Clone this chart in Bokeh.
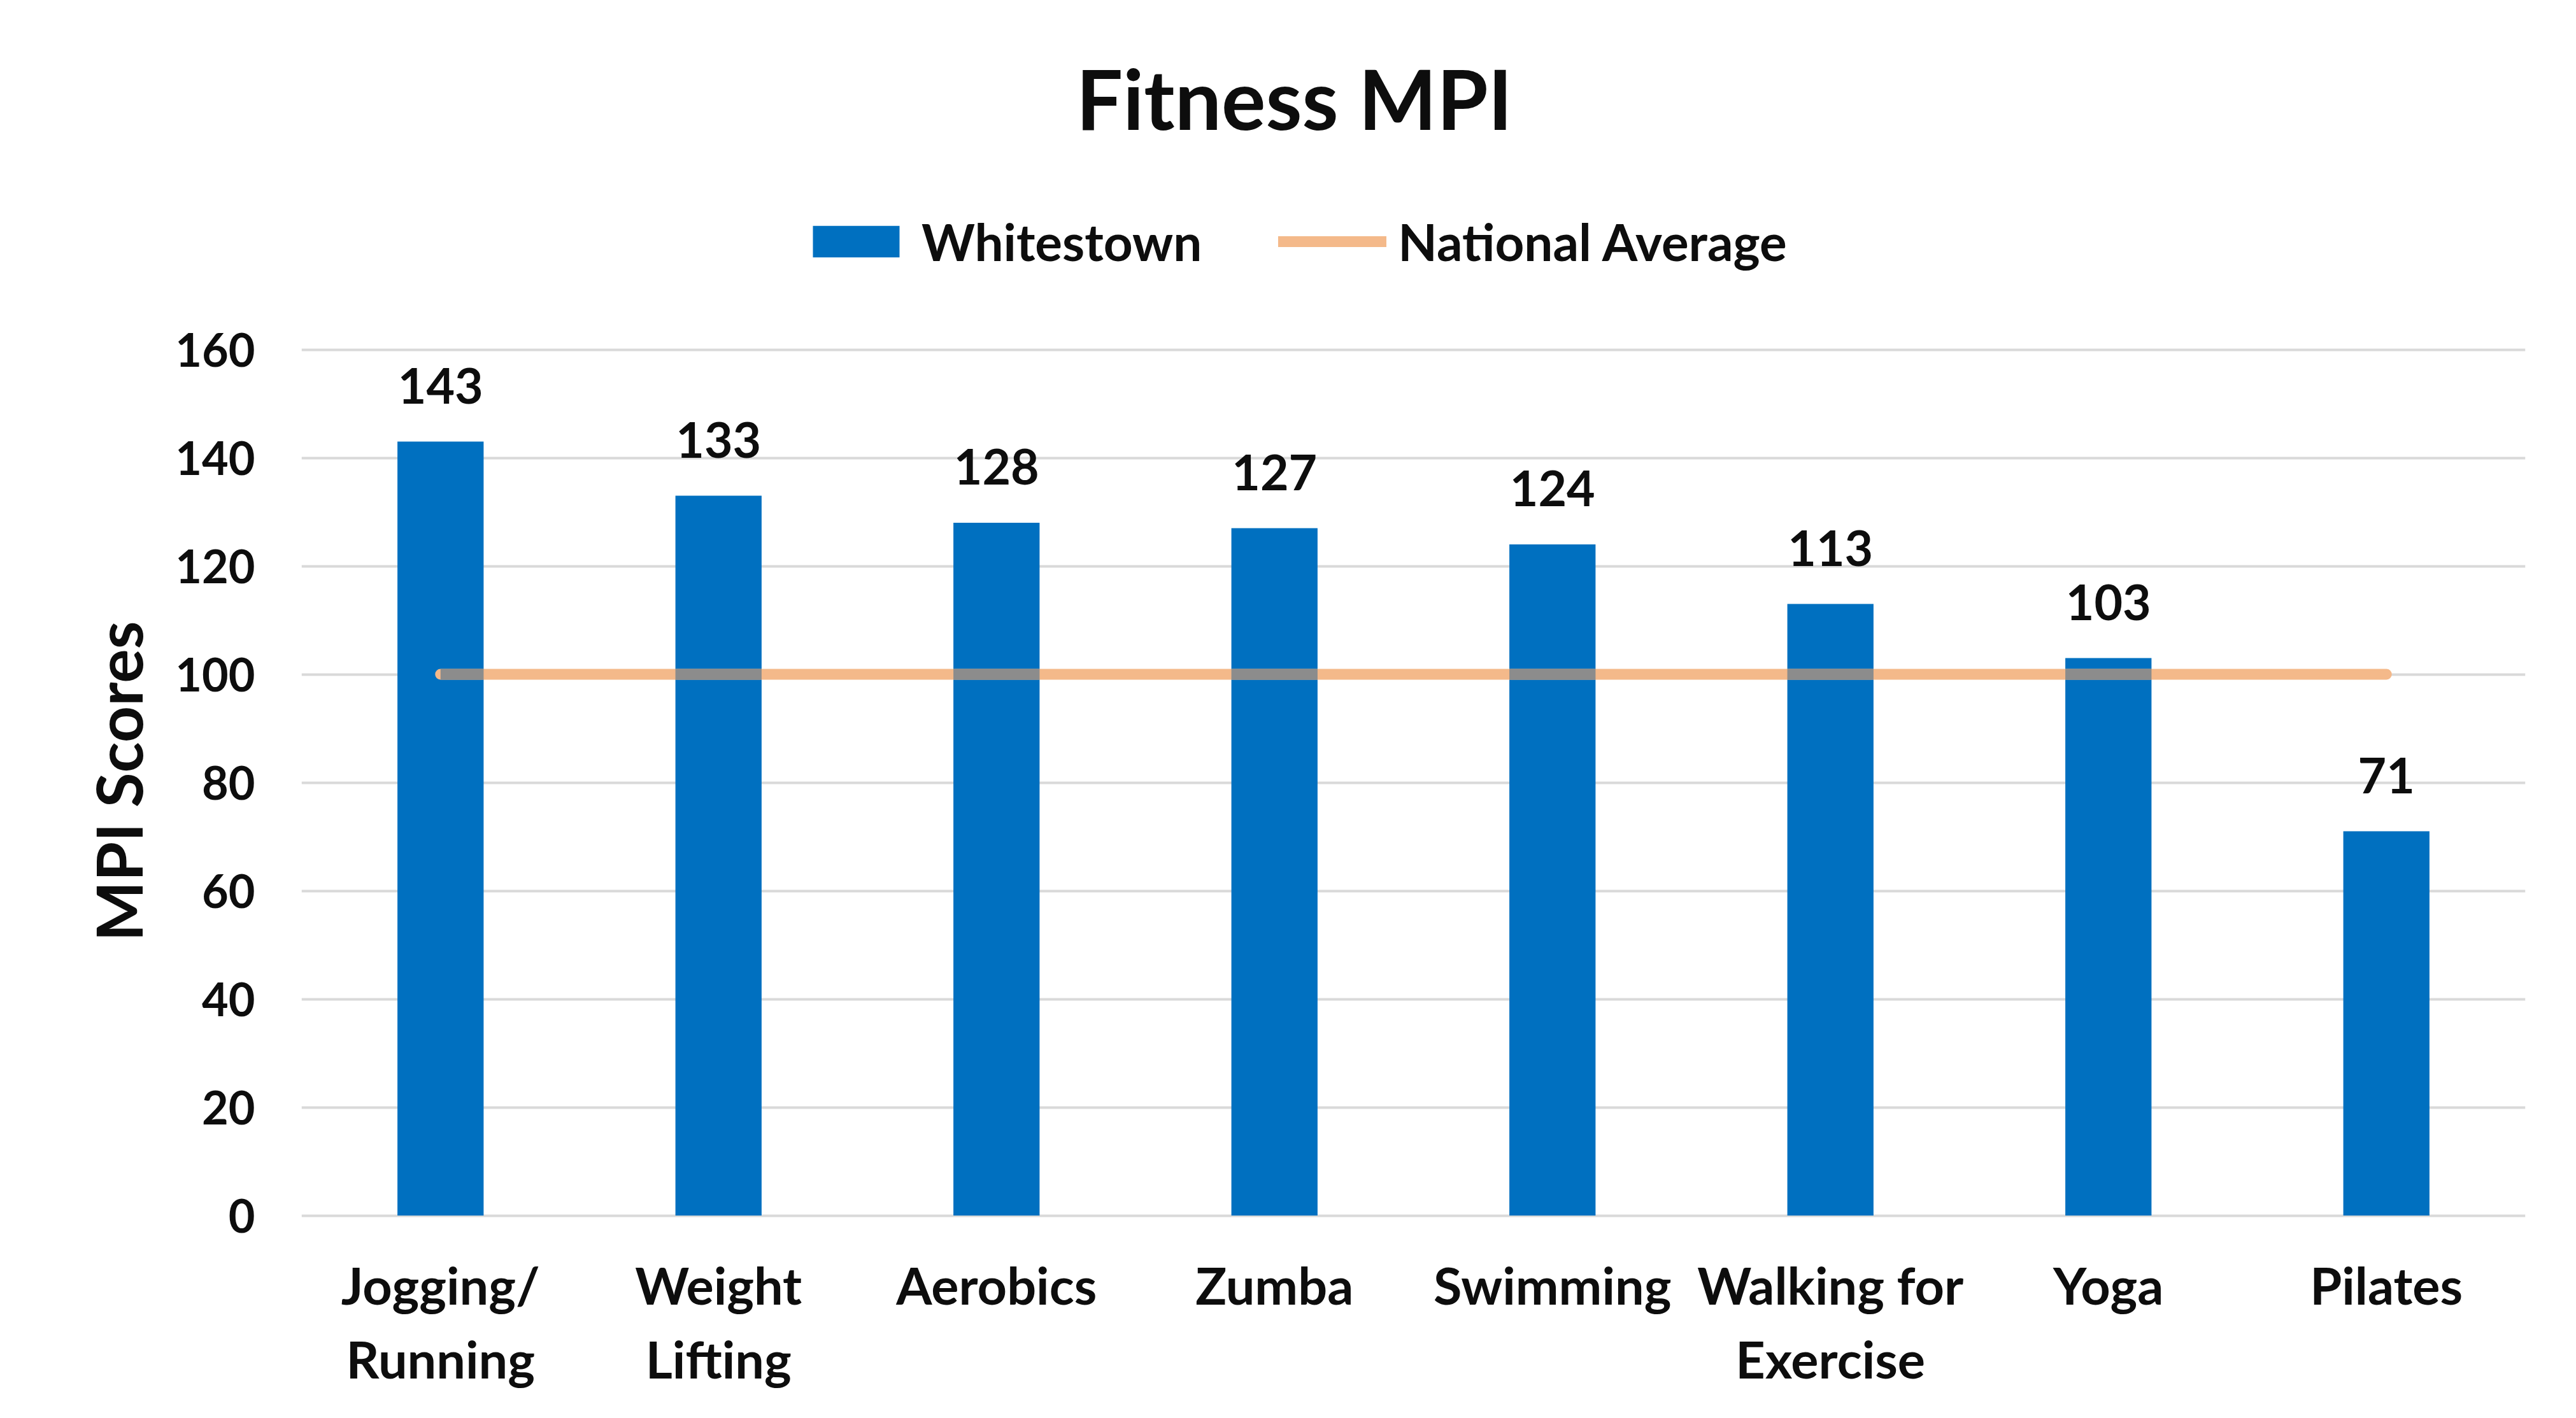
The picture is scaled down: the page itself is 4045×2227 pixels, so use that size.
from bokeh.plotting import figure
from bokeh.layouts import row
from bokeh.models import Range1d, FixedTicker, Label, Legend, LegendItem, ColumnDataSource, Div
from bokeh.core.properties import value
from bokeh.embed import file_html
from bokeh.resources import INLINE

# ---- data ----
categories = ["Jogging/\nRunning", "Weight\nLifting", "Aerobics", "Zumba",
              "Swimming", "Walking for\nExercise", "Yoga", "Pilates"]
whitestown = [143, 133, 128, 127, 124, 113, 103, 71]
national_average = [100, 100, 100, 100, 100, 100, 100, 100]
y_ticks = [0, 20, 40, 60, 80, 100, 120, 140, 160]
title_text = "Fitness MPI"
y_label = "MPI Scores"
series_names = ["Whitestown", "National Average"]

# ---- style ----
FONT = "Lato"
BLUE = "#0070C0"
PEACH = "#F4B98A"
OVERLAP = "#8C8C8C"
GRID = "#D9D9D9"
TXT = "#0D0D0D"
BAR_W = 0.31

n = len(categories)
xpos = [i + 0.5 for i in range(n)]

H = 2211
LW = 250          # width of the strip holding the y-axis title
W = 4029 - LW

# ---- strip with the vertical y-axis title (HTML text, CSS-rotated) ----
ylab_html = (
    '<div style="position:absolute; left:0px; top:0px; width:1000px; '
    'height:120px; line-height:120px; text-align:center; white-space:nowrap; '
    f'font-family:{FONT}; font-weight:bold; font-size:100px; color:{TXT}; '
    'transform-origin:50% 50%; '
    'transform:translate(-315px, 1167px) rotate(-90deg);">'
    f'{y_label}</div>'
)
ylab = Div(text=ylab_html, width=LW, height=H, margin=0,
           styles={"overflow": "visible", "position": "relative"})

# ---- main chart (frame reaches the top so title/legend sit inside it) ----
p = figure(width=W, height=H, output_backend="svg", toolbar_location=None,
           x_range=Range1d(0, n), y_range=Range1d(-3, 224.53),
           min_border_left=223, min_border_right=64,
           min_border_top=0, min_border_bottom=277)
p.outline_line_color = None
p.background_fill_color = "white"
p.border_fill_color = "white"

src = ColumnDataSource(dict(x=xpos, val=whitestown,
                            lab=[str(v) for v in whitestown]))
bars = p.vbar(x="x", top="val", bottom=0, width=BAR_W, source=src,
              fill_color=BLUE, line_color=None)
avg_line = p.line(x=xpos, y=national_average, line_color=PEACH,
                  line_width=17, line_cap="round")

# part of the average line lying over the bars is drawn grey
x0s, x1s, ys = [], [], []
for xc, v, a in zip(xpos, whitestown, national_average):
    if v > a:
        x0s.append(max(xc - BAR_W / 2, xpos[0]))
        x1s.append(min(xc + BAR_W / 2, xpos[-1]))
        ys.append(a)
p.segment(x0=x0s, y0=ys, x1=x1s, y1=ys, line_color=OVERLAP, line_width=17)

p.text(x="x", y="val", text="lab", source=src, y_offset=-88,
       text_align="center", text_baseline="alphabetic",
       text_font=value(FONT), text_font_style="bold",
       text_font_size="77px", text_color=TXT)

# axes
p.yaxis.ticker = FixedTicker(ticks=y_ticks)
p.yaxis.axis_line_color = None
p.yaxis.major_tick_line_color = None
p.yaxis.minor_tick_line_color = None
p.yaxis.major_tick_out = 0
p.yaxis.minor_tick_out = 0
p.yaxis.major_label_standoff = 73
p.yaxis.major_label_text_font = FONT
p.yaxis.major_label_text_font_style = "bold"
p.yaxis.major_label_text_font_size = "72px"
p.yaxis.major_label_text_color = TXT

p.xaxis.ticker = FixedTicker(ticks=xpos)
p.xaxis.major_label_overrides = {xc: c for xc, c in zip(xpos, categories)}
p.xaxis.axis_line_color = None
p.xaxis.major_tick_line_color = None
p.xaxis.minor_tick_line_color = None
p.xaxis.major_tick_out = 0
p.xaxis.minor_tick_out = 0
p.xaxis.major_label_standoff = 34
p.xaxis.major_label_text_font = FONT
p.xaxis.major_label_text_font_style = "bold"
p.xaxis.major_label_text_font_size = "81px"
p.xaxis.major_label_text_color = TXT

p.xgrid.grid_line_color = None
p.ygrid.grid_line_color = GRID
p.ygrid.grid_line_width = 4

# title
p.add_layout(Label(x=1559, y=1781, x_units="screen", y_units="screen",
                   text=title_text, text_align="center",
                   text_baseline="alphabetic", text_font=FONT,
                   text_font_style="bold", text_font_size="130px",
                   text_color=TXT))

# legend
legend = Legend(items=[LegendItem(label=series_names[0], renderers=[bars]),
                       LegendItem(label=series_names[1], renderers=[avg_line])],
                location=(786, 1507), orientation="horizontal",
                glyph_width=170, glyph_height=62, label_standoff=18,
                spacing=120, padding=0, margin=0,
                border_line_color=None, background_fill_alpha=0,
                label_text_font=FONT, label_text_font_style="bold",
                label_text_font_size="80px", label_text_color=TXT)
p.add_layout(legend)

layout = row(ylab, p, spacing=0)
open("out.html", "w").write(file_html(layout, INLINE))
